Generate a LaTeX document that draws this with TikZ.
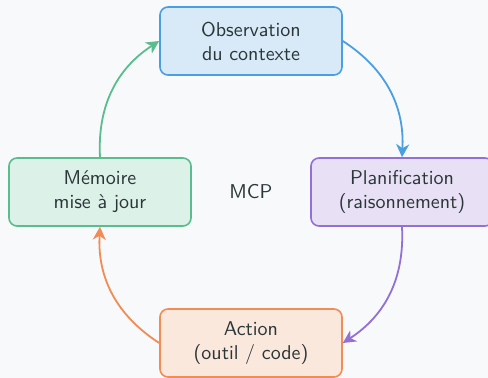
\documentclass[tikz,border=0pt]{standalone}
\usetikzlibrary{arrows.meta}
\definecolor{fond}{HTML}{F8F9FA}
\definecolor{texte}{HTML}{2B3638}
\definecolor{bleu}{HTML}{4A9FE3}
\definecolor{bleuclair}{HTML}{D8EAF8}
\definecolor{violet}{HTML}{9370D6}
\definecolor{violetclair}{HTML}{E8E0F5}
\definecolor{orange}{HTML}{F08C55}
\definecolor{orangeclair}{HTML}{FBE8DD}
\definecolor{vert}{HTML}{5ABD8E}
\definecolor{vertclair}{HTML}{DCF1E7}
\tikzset{
	etape/.style={draw=#1, fill=#1clair, line width=0.8pt, rounded corners=4pt,
		minimum width=91pt, minimum height=34pt, align=center, text=texte},
	fleche/.style={-{Stealth[length=6.5pt,width=6.5pt,inset=2pt]}, line width=0.9pt, draw=#1}
}
\begin{document}
\begin{tikzpicture}[x=1pt, y=1pt, font=\sffamily, line join=round, line cap=round]
			\fill[fond] (-125.5,-93) rectangle (118.5,96);
			\useasboundingbox (-125.5,-93) rectangle (118.5,96);
			\path
			(0,0) coordinate (O)
			(90:75.5) coordinate (H)
			(0:75.5) coordinate (D)
			(-90:75.5) coordinate (B)
			(180:75.5) coordinate (G);
			\node[etape=bleu] (obs) at (H) {Observation\\du contexte};
			\node[etape=violet] (plan) at (D) {Planification\\(raisonnement)};
			\node[etape=orange] (act) at (B) {Action\\(outil / code)};
			\node[etape=vert] (mem) at (G) {M\'emoire\\mise \`a jour};
			\node[text=texte] (mcp) at (O) {MCP};
			\foreach \a/\b/\c in {obs.east/plan.north/bleu, plan.south/act.east/violet, act.west/mem.south/orange, mem.north/obs.west/vert}
			\draw[fleche=\c] (\a) to[bend left=30] (\b);
		\end{tikzpicture}
\end{document}
